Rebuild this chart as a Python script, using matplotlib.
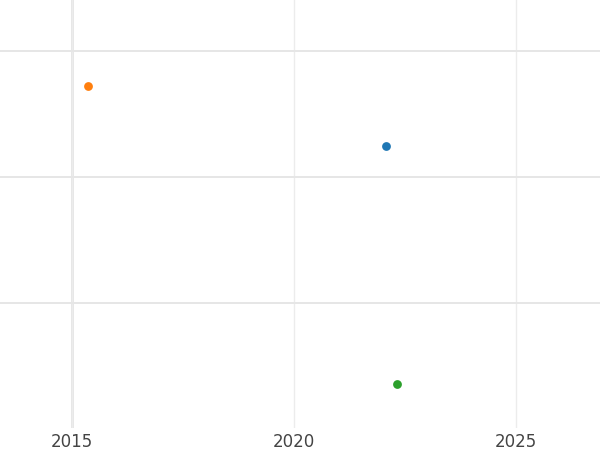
import matplotlib
matplotlib.use("Agg")
import matplotlib.pyplot as plt

# point data
years = [2022.07, 2015.36, 2022.32]
values = [1.24, 1.72, -0.645]
colors = ["#1f77b4", "#ff7f0e", "#2ca02c"]

x_ticks = [2015, 2020, 2025]
y_grid = [0, 1, 2]

fig = plt.figure(figsize=(6, 4.5), dpi=100)
ax = fig.add_axes([0, 22 / 450, 1, 428 / 450])

for x, y, c in zip(years, values, colors):
    ax.scatter(x, y, s=40, color=c, zorder=3, linewidths=0)

ax.set_xlim(2013.38, 2026.89)
ax.set_ylim(-0.99, 2.40)
ax.set_xticks(x_ticks)
ax.set_xticklabels([str(t) for t in x_ticks], fontsize=12, color="#444444")
ax.set_yticks(y_grid)
ax.set_yticklabels([])
ax.tick_params(length=0)
ax.grid(True, axis="y", color="#e6e6e6", linewidth=1.4)
ax.grid(True, axis="x", color="#ececec", linewidth=1.0)
ax.axvline(2015, color="#e3e3e3", linewidth=2.0, zorder=1)
for s in ax.spines.values():
    s.set_visible(False)

fig.savefig("out.png", dpi=100)
